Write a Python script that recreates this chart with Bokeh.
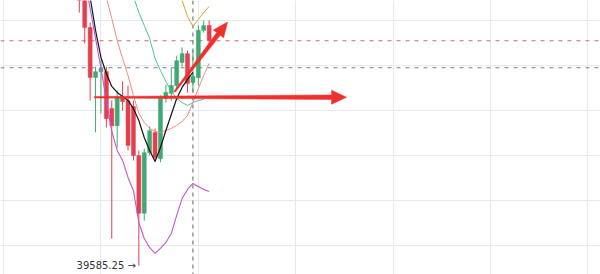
import math
import numpy as np
from bokeh.plotting import figure
from bokeh.models import Range1d, Span, SingleIntervalTicker, FixedTicker, ColumnDataSource
from bokeh.core.properties import value
from bokeh.embed import file_html
from bokeh.resources import INLINE

W, H = 600, 274

# ---- price data (one bar per index, first bar at index 14) ----
first_bar = 14
opens = [39872.10, 39860.40, 39823.15, 39773.30, 39779.05, 39779.20, 39742.35, 39725.10,
         39753.40, 39750.05, 39744.30, 39695.20, 39637.45, 39698.10, 39718.35, 39692.00,
         39752.15, 39757.40, 39765.20, 39788.35, 39797.10, 39768.30, 39773.05, 39820.40,
         39825.15]
highs = [39878.40, 39865.10, 39828.30, 39784.15, 39790.40, 39784.05, 39750.30, 39760.15,
         39769.40, 39765.10, 39750.20, 39700.35, 39702.10, 39724.30, 39722.15, 39755.40,
         39766.05, 39783.30, 39795.10, 39803.40, 39800.15, 39800.30, 39825.35, 39830.10,
         39830.40]
lows = [39838.10, 39807.35, 39750.20, 39718.40, 39737.15, 39723.30, 39612.05, 39703.40,
        39740.10, 39700.35, 39690.20, 39585.25, 39630.10, 39695.30, 39689.15, 39688.40,
        39748.20, 39750.10, 39760.35, 39784.10, 39758.30, 39758.15, 39765.40, 39818.05,
        39806.30]
closes = [39854.30, 39823.15, 39773.30, 39779.05, 39782.40, 39732.10, 39725.10, 39753.40,
          39749.20, 39705.35, 39695.20, 39637.45, 39698.10, 39720.05, 39693.15, 39752.15,
          39758.30, 39765.20, 39790.10, 39797.10, 39767.35, 39774.20, 39820.40, 39825.15,
          39810.30]

# ---- overlay studies: (index of first bar, values) ----
ma_black = (1, [39889.3, 39853.3, 39820.3, 39793.3, 39777.3, 39764.3, 39758.3, 39754.3,
                39750.3, 39742.3, 39730.3, 39713.3, 39700.3, 39689.3, 39703.3, 39720.3,
                39736.3, 39752.3, 39763.3, 39771.3, 39778.3])
band_violet = (1, [39870.3, 39842.3, 39812.3, 39782.3, 39750.3, 39719.3, 39700.3, 39690.3,
                   39673.3, 39660.3, 39628.3, 39612.3, 39603.3, 39597.3, 39602.3, 39608.3,
                   39617.3, 39635.3, 39652.3, 39661.3, 39667.3, 39664.3, 39661.3, 39659.3])
ma_salmon = (4, [39875.3, 39853.3, 39832.3, 39810.3, 39792.3, 39775.3, 39755.3, 39737.3,
                 39728.3, 39722.3, 39719.3, 39718.3, 39720.3, 39722.3, 39725.3, 39729.3,
                 39735.3, 39748.3, 39762.3, 39775.3, 39787.3])
ma_teal = (9, [39869.3, 39854.3, 39838.3, 39825.3, 39812.3, 39792.3, 39780.3, 39769.3,
               39759.3, 39752.3, 39748.3, 39745.3, 39748.3, 39750.3, 39751.3])
band_gold = (18, [39880.3, 39850.3, 39834.3, 39824.3, 39831.3, 39838.3, 39844.3])

# horizontal reference levels and the highlighted bar
level_upper = 39810.0
level_lower = 39783.0
cursor_bar = 21

# hand-drawn arrows: (tail, tip) in (bar, price)
arrow_flat = ((16.8, 39753.5), (63.4, 39753.5))
arrow_up = ((31.6, 39759.0), (41.4, 39828.8))

grid_levels = [39605, 39650, 39695, 39740, 39785, 39830]

UP, DOWN = "#3fa873", "#e2404e"
ARROW_RED = "#f0302c"

x_range = Range1d(-0.57, 110.34)
y_range = Range1d(39576.25, 39850.25)

p = figure(width=W, height=H, x_range=x_range, y_range=y_range,
           output_backend="svg", toolbar_location=None,
           x_axis_location=None, y_axis_location=None, min_border=0)
p.outline_line_color = None
p.background_fill_color = "white"
p.border_fill_color = "white"
p.xgrid.ticker = SingleIntervalTicker(interval=18)
p.ygrid.ticker = FixedTicker(ticks=grid_levels)
p.grid.grid_line_color = "#e5eaf0"
p.grid.grid_line_width = 1

# dashed levels and cursor line
p.add_layout(Span(location=level_upper, dimension="width", line_color="#e0606c",
                  line_dash="4 5", line_width=1, level="underlay"))
p.add_layout(Span(location=level_lower, dimension="width", line_color="#7a7f86",
                  line_dash="4 5", line_width=1, level="underlay"))
p.add_layout(Span(location=cursor_bar + first_bar, dimension="height", line_color="#5a5f66",
                  line_dash="4 4", line_width=1, level="underlay"))

# candles
o = np.array(opens); c = np.array(closes); hi = np.array(highs); lo = np.array(lows)
bars = np.arange(len(o)) + first_bar
for mask, col in ((c >= o, UP), (c < o, DOWN)):
    src = ColumnDataSource(dict(x=bars[mask], top=np.maximum(o, c)[mask],
                                bottom=np.minimum(o, c)[mask], high=hi[mask], low=lo[mask]))
    p.segment(x0="x", y0="high", x1="x", y1="low", source=src, line_color=col, line_width=1)
    p.vbar(x="x", width=0.74, top="top", bottom="bottom", source=src,
           fill_color=col, line_color=col, line_width=0.5)

# overlay lines
for (start, vals), col, lw in ((ma_salmon, "#f28a7c", 1.0), (ma_teal, "#4cc4a6", 1.0),
                               (band_gold, "#d9a62c", 1.0), (band_violet, "#c454d6", 1.1),
                               (ma_black, "#151515", 1.2)):
    xs = np.arange(len(vals)) + start + first_bar
    p.line(xs, vals, line_color=col, line_width=lw)

# lowest-low marker
i_low = int(np.argmin(lo))
p.text(x=[bars[i_low]], y=[lo[i_low]], text=[f"{lo[i_low]:.2f} \u2192"],
       text_align="right", text_baseline="middle", x_offset=-3,
       text_font=value("DejaVu Sans"), text_font_size="10px", text_color="#333333")


def arrow_outline(tail, tip, w_tail, w_neck, head_len, head_w):
    """Tapered arrow polygon; widths in screen pixels, ends in data units."""
    sx = W / (x_range.end - x_range.start)
    sy = H / (y_range.end - y_range.start)
    x0, y0 = tail[0] * sx, tail[1] * sy
    x1, y1 = tip[0] * sx, tip[1] * sy
    L = math.hypot(x1 - x0, y1 - y0)
    ux, uy = (x1 - x0) / L, (y1 - y0) / L
    nx, ny = -uy, ux
    kx, ky = x1 - ux * head_len, y1 - uy * head_len
    pts = [(x0 + nx * w_tail / 2, y0 + ny * w_tail / 2),
           (kx + nx * w_neck / 2, ky + ny * w_neck / 2),
           (kx + nx * head_w / 2, ky + ny * head_w / 2),
           (x1, y1),
           (kx - nx * head_w / 2, ky - ny * head_w / 2),
           (kx - nx * w_neck / 2, ky - ny * w_neck / 2),
           (x0 - nx * w_tail / 2, y0 - ny * w_tail / 2)]
    return [a / sx for a, _ in pts], [b / sy for _, b in pts]


for (tail, tip), hl, hw in ((arrow_flat, 15, 14), (arrow_up, 15, 13)):
    ax, ay = arrow_outline(tail, tip, 1.5, 4.5, hl, hw)
    p.patch(ax, ay, fill_color=ARROW_RED, line_color=ARROW_RED, line_width=0.5)

open("out.html", "w").write(file_html(p, INLINE))
